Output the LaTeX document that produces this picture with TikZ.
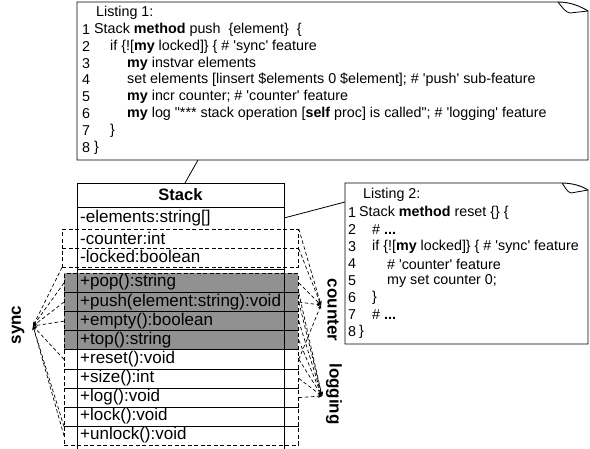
\documentclass[tikz,border=0pt]{standalone}
\usepackage{fontspec}
\setmainfont{Liberation Sans}[Ligatures=TeXOff]
\usetikzlibrary{arrows.meta}
\begin{document}
\begin{tikzpicture}[x=1pt,y=-1pt,
  lst/.style={anchor=west, font=\fontsize{14.3}{16}\selectfont, inner sep=0pt},
  cls/.style={anchor=west, font=\fontsize{17}{19}\selectfont, inner sep=0pt},
  frame/.style={draw, line width=0.9pt},
  dbox/.style={draw, dash pattern=on 4pt off 2.5pt, line width=0.8pt, minimum height=19.1pt, minimum width=234pt, anchor=north west, inner sep=0pt},
  abox/.style={dbox, minimum width=236pt},
  feat/.style={draw, dash pattern=on 3.5pt off 2.5pt, line width=0.7pt, -{Stealth[length=4pt,width=3.5pt]}},
  lbl/.style={font=\bfseries\fontsize{17}{19}\selectfont, inner sep=0pt}]
\useasboundingbox (0,0) rectangle (590,448);
\clip (0,0) rectangle (590,448);
\fill[white] (0,0) rectangle (590,448);

% ---------- Listing 1 ----------
\node[inner sep=0pt, minimum width=511pt, minimum height=158pt, anchor=north west] (lst1) at (77,2) {};
\draw[frame] (558,2) -- (77,2) -- (77,160) -- (588,160) -- (588,11)
  .. controls (580,6) and (570,2) .. (558,2);
\draw[line width=0.8pt] (558,2) .. controls (562,7) and (565,12) .. (570,13) -- (588,11);
\node[lst] (l1t) at (96,13) {Listing 1:};
\node[lst] (l1n1) at (82,30) {1};
\node[lst] (l1n2) at (82,47) {2};
\node[lst] (l1n3) at (82,64) {3};
\node[lst] (l1n4) at (82,80) {4};
\node[lst] (l1n5) at (82,97) {5};
\node[lst] (l1n6) at (82,114) {6};
\node[lst] (l1n7) at (82,131) {7};
\node[lst] (l1n8) at (82,148) {8};
\node[lst] (l1c1) at (94,30) {Stack \textbf{method} push\ \ \{element\}\ \ \{};
\node[lst] (l1c2) at (110,47) {if \{![\textbf{my} locked]\} \{ \# 'sync' feature};
\node[lst] (l1c3) at (127,64) {\textbf{my} instvar elements};
\node[lst] (l1c4) at (127,80) {set elements [linsert \$elements 0 \$element]; \# 'push' sub-feature};
\node[lst] (l1c5) at (127,97) {\textbf{my} incr counter; \# 'counter' feature};
\node[lst] (l1c6) at (127,114) {\textbf{my} log "*** stack operation [\textbf{self} proc] is called"; \# 'logging' feature};
\node[lst] (l1c7) at (110,131) {\}};
\node[lst] (l1c8) at (94,148) {\}};

% ---------- Listing 2 ----------
\node[inner sep=0pt, minimum width=243pt, minimum height=161pt, anchor=north west] (lst2) at (345,183) {};
\draw[frame] (562,183) -- (345,183) -- (345,344) -- (588,344) -- (588,190)
  .. controls (582,186) and (572,183) .. (562,183);
\draw[line width=0.8pt] (562,183) .. controls (565,187) and (567,192) .. (571,193) -- (588,190);
\node[lst] (l2t) at (363,195) {Listing 2:};
\node[lst] (l2n1) at (348,213) {1};
\node[lst] (l2n2) at (348,230) {2};
\node[lst] (l2n3) at (348,247) {3};
\node[lst] (l2n4) at (348,264) {4};
\node[lst] (l2n5) at (348,281) {5};
\node[lst] (l2n6) at (348,298) {6};
\node[lst] (l2n7) at (348,315) {7};
\node[lst] (l2n8) at (348,332) {8};
\node[lst] (l2c1) at (359,213) {Stack \textbf{method} reset \{\} \{};
\node[lst] (l2c2) at (372,230) {\# \textbf{...}};
\node[lst] (l2c3) at (372,247) {if \{![\textbf{my} locked]\} \{ \# 'sync' feature};
\node[lst] (l2c4) at (387,264) {\# 'counter' feature};
\node[lst] (l2c5) at (387,281) {my set counter 0;};
\node[lst] (l2c6) at (372,298) {\}};
\node[lst] (l2c7) at (372,315) {\# \textbf{...}};
\node[lst] (l2c8) at (359,332) {\}};

% ---------- Stack class ----------
\fill[black!43] (64,273) rectangle (298,349.4);
\node[frame, inner sep=0pt, minimum width=207pt, minimum height=290pt, anchor=north west] (stk) at (77,183) {};
\draw[frame] (77,207) -- (284,207);
\draw[frame] (77,269) -- (284,269);
\node[font=\bfseries\fontsize{16.5}{18}\selectfont, inner sep=0pt] (stkname) at (180.5,195) {Stack};

\node[cls] (telements) at (80,218) {-elements:string[]};
\node[cls] (tcounter) at (80,238) {-counter:int};
\node[cls] (tlocked) at (80,256.5) {-locked:boolean};
\node[abox] (rcounter) at (62,229) {};
\node[abox] (rlocked) at (62,247.5) {};

\node[dbox] (rpop) at (64,273) {};
\node[dbox] (rpush) at (64,292.1) {};
\node[dbox] (rempty) at (64,311.2) {};
\node[dbox] (rtop) at (64,330.3) {};
\node[dbox] (rreset) at (64,349.4) {};
\node[dbox] (rsize) at (64,368.5) {};
\node[dbox] (rlog) at (64,387.6) {};
\node[dbox] (rlock) at (64,406.7) {};
\node[dbox] (runlock) at (64,425.8) {};

\node[cls] (tpop) at (80,282.5) {+pop():string};
\node[cls] (tpush) at (80,301.6) {+push(element:string):void};
\node[cls] (tempty) at (80,320.7) {+empty():boolean};
\node[cls] (ttop) at (80,339.8) {+top():string};
\node[cls] (treset) at (80,358.9) {+reset():void};
\node[cls] (tsize) at (80,378) {+size():int};
\node[cls] (tlog) at (80,397.1) {+log():void};
\node[cls] (tlock) at (80,416.2) {+lock():void};
\node[cls] (tunlock) at (80,435.3) {+unlock():void};

% ---------- connectors to listings ----------
\coordinate (c1a) at (198,160);
\coordinate (c1b) at (185,183);
\draw[line width=0.8pt] (c1a) -- (c1b);
\coordinate (c2a) at (284,218);
\coordinate (c2b) at (345,202);
\draw[line width=0.8pt] (c2a) -- (c2b);

% ---------- feature labels ----------
\coordinate (syncp) at (33,326);
\coordinate (countp) at (321,305);
\coordinate (logp) at (322,396);
\node[lbl, rotate=90] (lsync) at (18,325) {sync};
\node[lbl, rotate=-90] (lcounter) at (333,310) {counter};
\node[lbl, rotate=-90] (llogging) at (334,394) {logging};

\draw[feat] (rlocked.south west) -- (syncp);
\draw[feat] (rpop.west) -- (syncp);
\draw[feat] (rpush.west) -- (syncp);
\draw[feat] (rempty.west) -- (syncp);
\draw[feat] (rreset.west) -- (syncp);
\draw[feat] (rlock.south west) -- (syncp);
\draw[feat] (runlock.west) -- (syncp);

\draw[feat] (rcounter.north east) -- (countp);
\draw[feat] (rcounter.south east) -- (countp);
\draw[feat] (rpop.east) -- (countp);
\draw[feat] (rpush.east) -- (countp);
\draw[feat] (rreset.east) -- (countp);

\draw[feat] (rpop.south east) -- (logp);
\draw[feat] (rpush.east) -- (logp);
\draw[feat] (rempty.east) -- (logp);
\draw[feat] (rtop.east) -- (logp);
\draw[feat] (rreset.east) -- (logp);
\draw[feat] (rsize.east) -- (logp);
\draw[feat] (rlog.east) -- (logp);
\end{tikzpicture}
\end{document}
